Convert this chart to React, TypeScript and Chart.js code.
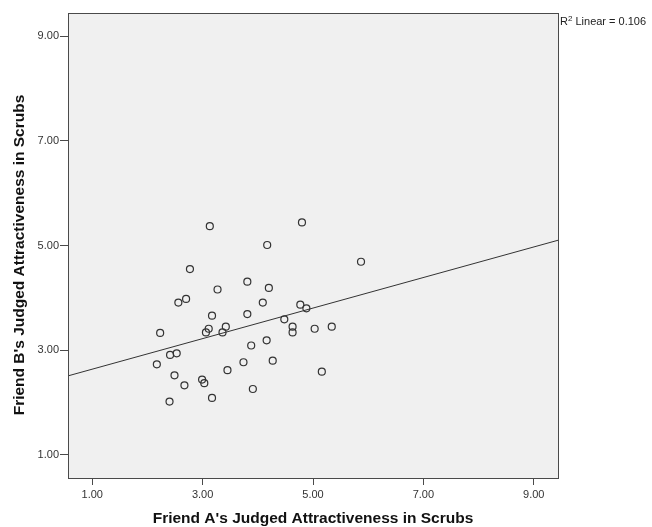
import React, { useEffect, useRef } from "react";
import { Chart, registerables } from "chart.js";

Chart.register(...registerables);

// Friend A's judged attractiveness (x) and Friend B's (y)
const friendA = [
  3.13, 4.80, 4.17, 5.87, 2.77, 3.81, 4.20, 3.27, 2.70, 2.56, 4.09,
  4.77, 4.88, 3.17, 3.81, 4.48, 4.63, 4.63, 5.03, 5.34, 3.42, 3.11,
  3.06, 3.36, 2.23, 4.16, 3.88, 2.53, 2.41, 4.27, 3.74, 2.17, 3.45,
  5.16, 2.49, 2.99, 3.03, 2.67, 3.91, 3.17, 2.40,
];
const friendB = [
  5.37, 5.44, 5.01, 4.69, 4.55, 4.31, 4.19, 4.16, 3.98, 3.91, 3.91,
  3.87, 3.80, 3.66, 3.69, 3.59, 3.45, 3.34, 3.41, 3.45, 3.45, 3.41,
  3.34, 3.34, 3.33, 3.19, 3.09, 2.94, 2.91, 2.80, 2.77, 2.73, 2.62,
  2.59, 2.52, 2.44, 2.37, 2.33, 2.26, 2.09, 2.02,
];
// Linear fit line end points
const fitX = [0.56, 9.44];
const fitY = [2.51, 5.1];
const tickValues = [1, 3, 5, 7, 9];
const axisMin = 0.56;
const axisMax = 9.44;
const r2Value = "0.106";
const xTitle = "Friend A's Judged Attractiveness in Scrubs";
const yTitle = "Friend B's Judged Attractiveness in Scrubs";

const FONT = "'Liberation Sans', Arial, sans-serif";

export default function App() {
  const ref = useRef<HTMLCanvasElement | null>(null);

  useEffect(() => {
    document.body.style.margin = "0";
    const canvas = ref.current;
    if (!canvas) return;

    const bgPlugin = {
      id: "spssBg",
      beforeDraw(chart: any) {
        const { ctx, chartArea: a } = chart;
        ctx.save();
        ctx.fillStyle = "#ffffff";
        ctx.fillRect(0, 0, chart.width, chart.height);
        ctx.fillStyle = "#f0f0f0";
        ctx.fillRect(a.left, a.top, a.right - a.left, a.bottom - a.top);
        ctx.restore();
      },
      afterDraw(chart: any) {
        const { ctx, chartArea: a } = chart;
        ctx.save();
        ctx.strokeStyle = "#4a4a4a";
        ctx.lineWidth = 1;
        ctx.strokeRect(
          Math.round(a.left) + 0.5,
          Math.round(a.top) + 0.5,
          Math.round(a.right - a.left),
          Math.round(a.bottom - a.top)
        );
        // R² label
        ctx.fillStyle = "#222";
        ctx.textBaseline = "alphabetic";
        ctx.textAlign = "left";
        let x = a.right + 2;
        const y = a.top + 12;
        ctx.font = `11px ${FONT}`;
        ctx.fillText("R", x, y);
        x += ctx.measureText("R").width;
        ctx.font = `8px ${FONT}`;
        ctx.fillText("2", x, y - 4);
        x += ctx.measureText("2").width;
        ctx.font = `11px ${FONT}`;
        ctx.fillText(" Linear = " + r2Value, x, y);

        // Axis titles
        ctx.fillStyle = "#111";
        ctx.font = `bold 15.5px ${FONT}`;
        ctx.textAlign = "center";
        ctx.textBaseline = "middle";
        ctx.fillText(xTitle, (a.left + a.right) / 2, 519);
        ctx.translate(20, 255);
        ctx.rotate(-Math.PI / 2);
        ctx.fillText(yTitle, 0, 0);
        ctx.restore();
      },
    };

    const tickFmt = (v: any) => Number(v).toFixed(2);

    const chart = new Chart(canvas, {
      type: "scatter",
      data: {
        datasets: [
          {
            type: "scatter",
            data: friendA.map((x, i) => ({ x, y: friendB[i] })),
            pointRadius: 3.5,
            pointBorderWidth: 1.2,
            borderColor: "#333333",
            backgroundColor: "rgba(0,0,0,0)",
            pointHoverRadius: 3.5,
          },
          {
            type: "line",
            data: fitX.map((x, i) => ({ x, y: fitY[i] })),
            borderColor: "#333333",
            borderWidth: 1,
            pointRadius: 0,
            fill: false,
          } as any,
        ],
      },
      options: {
        responsive: false,
        animation: false,
        devicePixelRatio: 1,
        layout: { padding: { top: 13, right: 94, left: 0, bottom: 0 } },
        plugins: {
          legend: { display: false },
          tooltip: { enabled: false },
        },
        scales: {
          x: {
            type: "linear",
            min: axisMin,
            max: axisMax,
            afterBuildTicks: (s: any) => {
              s.ticks = tickValues.map((v) => ({ value: v }));
            },
            afterFit: (s: any) => {
              s.height = 49;
            },
            ticks: {
              callback: tickFmt,
              color: "#333",
              font: { family: FONT, size: 11 },
              padding: 3,
              maxRotation: 0,
            },
            grid: {
              display: true,
              drawOnChartArea: false,
              drawTicks: true,
              tickLength: 7,
              color: "#4a4a4a",
            },
            border: { display: true, color: "#4a4a4a" },
            title: { display: false },
          },
          y: {
            type: "linear",
            min: axisMin,
            max: axisMax,
            afterBuildTicks: (s: any) => {
              s.ticks = tickValues.map((v) => ({ value: v }));
            },
            afterFit: (s: any) => {
              s.width = 68;
            },
            ticks: {
              callback: tickFmt,
              color: "#333",
              font: { family: FONT, size: 11 },
              padding: 1,
            },
            grid: {
              display: true,
              drawOnChartArea: false,
              drawTicks: true,
              tickLength: 8,
              color: "#4a4a4a",
            },
            border: { display: true, color: "#4a4a4a" },
            title: { display: false },
          },
        },
      },
      plugins: [bgPlugin],
    } as any);

    return () => chart.destroy();
  }, []);

  return (
    <div style={{ position: "absolute", left: 0, top: 0, width: 652, height: 527 }}>
      <canvas ref={ref} width={652} height={527} />
    </div>
  );
}
